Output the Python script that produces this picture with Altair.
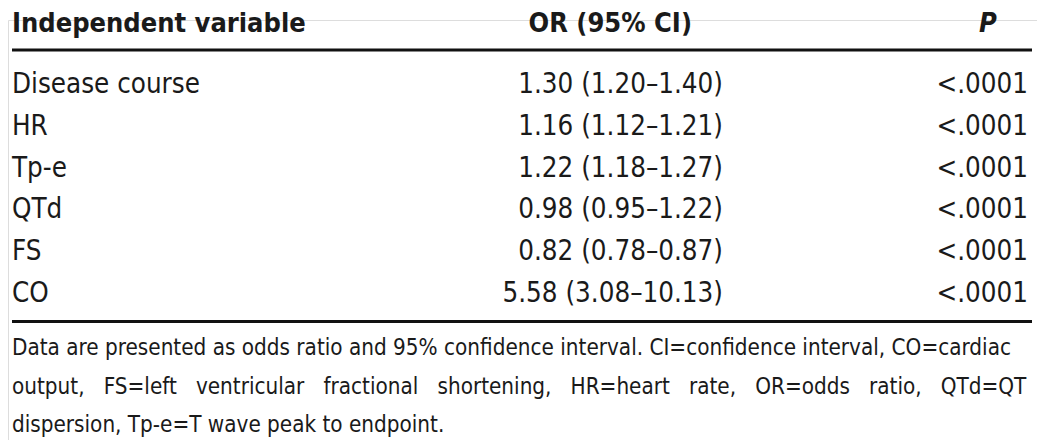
import altair as alt
import pandas as pd

variables = ["Disease course", "HR", "Tp-e", "QTd", "FS", "CO"]
or_ci = ["1.30 (1.20\u20131.40)", "1.16 (1.12\u20131.21)", "1.22 (1.18\u20131.27)",
         "0.98 (0.95\u20131.22)", "0.82 (0.78\u20130.87)", "5.58 (3.08\u201310.13)"]
p_values = ["<.0001"] * 6
headers = ["Independent variable", "OR (95% CI)", "P"]
G = "\u00a0\u00a0 "  # wider gap for the justified middle line
footnote = [
    "Data are presented as odds ratio and 95% confidence interval. CI=confidence interval, CO=cardiac",
    G.join(["output,", "FS=left", "ventricular", "fractional", "shortening,", "HR=heart",
            "rate,", "OR=odds", "ratio,", "QTd=QT"]),
    "dispersion, Tp-e=T wave peak to endpoint.",
]

FONT = "DejaVu Sans Condensed"
INK = "#1a1a1a"
T = 12  # top padding
FS_ROW = 27.5
FS_HDR = 27

rows = pd.DataFrame({"row": list(range(len(variables))), "var": variables,
                     "or": or_ci, "p": p_values})
notes = pd.DataFrame({"line": list(range(len(footnote))), "text": footnote})
hdr = pd.DataFrame({"h": headers})

yrow = alt.Y("row:Q", scale=alt.Scale(domain=[0, 5], range=[85 - T, 294 - T]), axis=None)

base = alt.Chart(rows)
var_t = base.mark_text(align="left", baseline="alphabetic", font=FONT, fontSize=FS_ROW, color=INK).encode(
    x=alt.value(4), y=yrow, text="var:N")
or_t = base.mark_text(align="right", baseline="alphabetic", font=FONT, fontSize=FS_ROW, color=INK).encode(
    x=alt.value(715), y=yrow, text="or:N")
p_t = base.mark_text(align="right", baseline="alphabetic", font=FONT, fontSize=FS_ROW, color=INK).encode(
    x=alt.value(1020), y=yrow, text="p:N")

h1 = alt.Chart(hdr).transform_filter(alt.datum.h == headers[0]).mark_text(
    align="left", baseline="alphabetic", font=FONT, fontSize=FS_HDR, fontWeight="bold", color=INK).encode(
    x=alt.value(4), y=alt.value(24 - T), text="h:N")
h2 = alt.Chart(hdr).transform_filter(alt.datum.h == headers[1]).mark_text(
    align="right", baseline="alphabetic", font=FONT, fontSize=FS_HDR, fontWeight="bold", color=INK).encode(
    x=alt.value(684), y=alt.value(24 - T), text="h:N")
h3 = alt.Chart(hdr).transform_filter(alt.datum.h == headers[2]).mark_text(
    align="center", baseline="alphabetic", font=FONT, fontSize=FS_HDR, fontWeight="bold",
    fontStyle="italic", color=INK).encode(
    x=alt.value(980), y=alt.value(24 - T), text="h:N")

top_rule = alt.Chart(hdr).transform_filter(alt.datum.h == headers[0]).mark_rule(
    color="#111", strokeWidth=3).encode(x=alt.value(4), x2=alt.value(1024), y=alt.value(42 - T))
bot_rule = alt.Chart(hdr).transform_filter(alt.datum.h == headers[0]).mark_rule(
    color="#111", strokeWidth=3).encode(x=alt.value(4), x2=alt.value(1024), y=alt.value(313.5 - T))

note_t = alt.Chart(notes).mark_text(align="left", baseline="alphabetic", font=FONT, fontSize=22.3,
                                    color=INK).encode(
    x=alt.value(4),
    y=alt.Y("line:Q", scale=alt.Scale(domain=[0, 2], range=[347 - T, 424 - T]), axis=None),
    text="text:N")

table = alt.layer(var_t, or_t, p_t).resolve_scale(y="shared")
chart = alt.layer(table, h1, h2, h3, top_rule, bot_rule, note_t).resolve_scale(
    y="independent").properties(
    width=1029, height=432 - T, autosize=alt.AutoSizeParams(type="none"),
    padding={"left": 0, "top": T, "right": 0, "bottom": 0}
).configure_view(stroke=None).configure(background="white")

chart.save("out.html", embed_options={"renderer": "svg", "actions": False})
